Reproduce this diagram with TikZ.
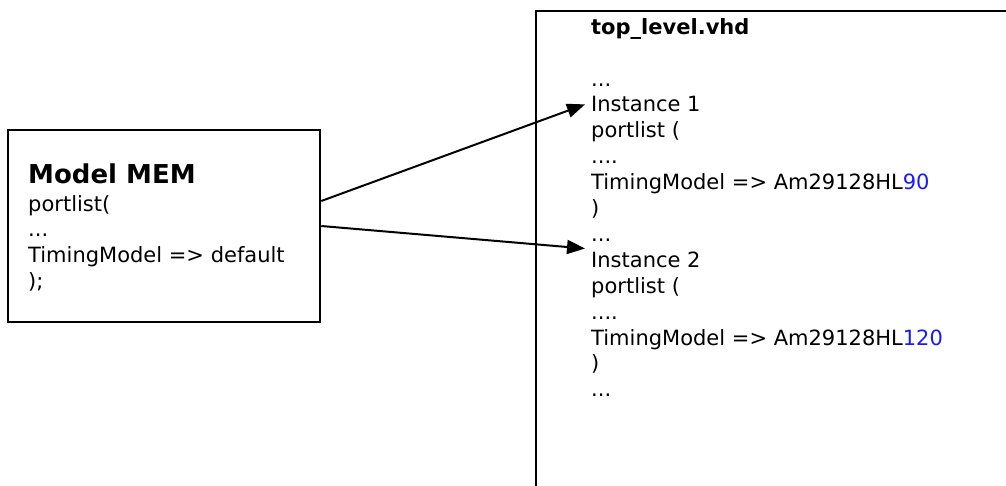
\documentclass[tikz,border=0pt]{standalone}
\usepackage{fontspec}
\setmainfont{DejaVu Sans}
\usepackage{xcolor}
\usetikzlibrary{positioning, arrows.meta}
\definecolor{numblue}{rgb}{0.1, 0.1, 1}

\begin{document}
\begin{tikzpicture}[x=1pt, y=-1pt,
  codeline/.style={anchor=base west, inner xsep=6pt, inner ysep=3pt, font=\fontsize{21}{25}\selectfont},
  conn/.style={line width=2pt, -{Triangle[length=18pt, width=14pt]}}]
\useasboundingbox (0,0) rectangle (1006,485);
\clip (0,0) rectangle (1006,485);
\pgfmathsetmacro{\lsep}{25.9}

% model box
\node[draw, line width=2.5pt, minimum width=312pt, minimum height=192pt, inner sep=0pt] (mem) at (164,226) {};
\node[codeline, font=\bfseries\fontsize{26}{30}\selectfont] (memname) at (22,183) {Model MEM};
\node[codeline] (mport) at (22,211) {portlist(};
\node[codeline] (mdots) at (22,211+\lsep) {...};
\node[codeline] (mtiming) at (22,211+2*\lsep) {TimingModel => default};
\node[codeline] (mclose) at (22,211+3*\lsep) {);};

% top level file
\draw[line width=2.5pt] (536,500) -- (536,11) -- (1020,11);
\node[codeline, font=\bfseries\fontsize{21}{25}\selectfont] (top) at (585,34) {top\_level.vhd};
\node[codeline] (dots1) at (585,86) {...};
\node[codeline] (inst1) at (585,86+\lsep) {Instance 1};
\node[codeline] (port1) at (585,86+2*\lsep) {portlist (};
\node[codeline] (dots2) at (585,86+3*\lsep) {....};
\node[codeline] (timing1) at (585,86+4*\lsep) {TimingModel => Am29128HL\textcolor{numblue}{90}};
\node[codeline] (close1) at (585,86+5*\lsep) {)};
\node[codeline] (dots3) at (585,86+6*\lsep) {...};
\node[codeline] (inst2) at (585,86+7*\lsep) {Instance 2};
\node[codeline] (port2) at (585,86+8*\lsep) {portlist (};
\node[codeline] (dots4) at (585,86+9*\lsep) {....};
\node[codeline] (timing2) at (585,86+10*\lsep) {TimingModel => Am29128HL\textcolor{numblue}{120}};
\node[codeline] (close2) at (585,86+11*\lsep) {)};
\node[codeline] (dots5) at (585,86+12*\lsep) {...};

% instance links
\draw[conn] ([yshift=25pt]mem.east) -- (inst1.west);
\draw[conn] (mem.east) -- (inst2.north west);
\end{tikzpicture}
\end{document}
